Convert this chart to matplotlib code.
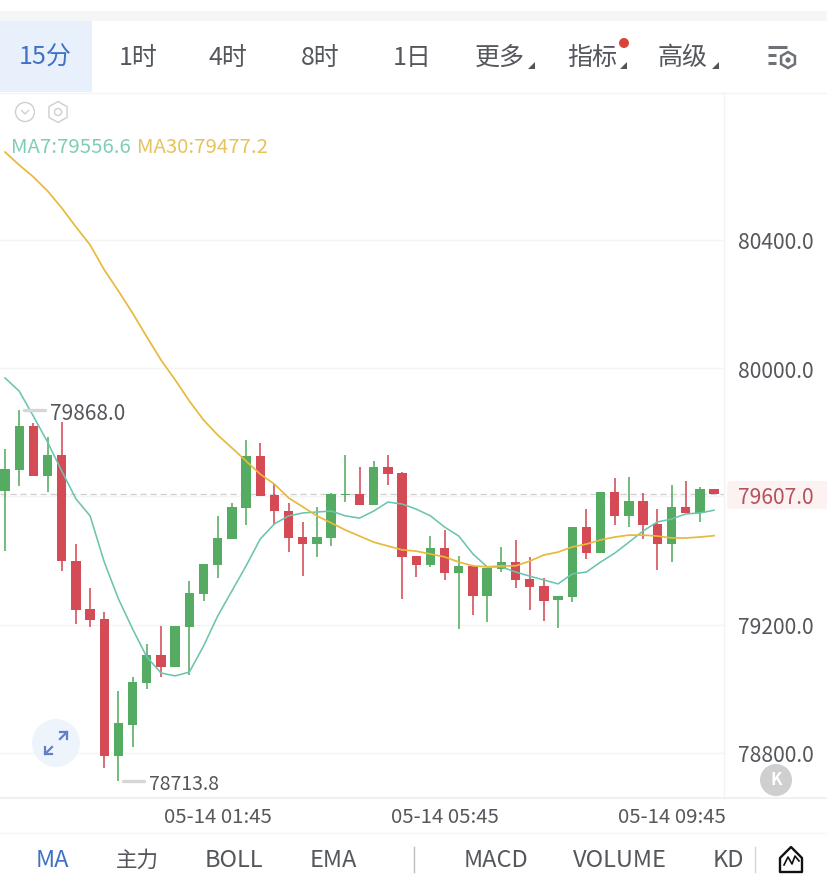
import matplotlib
matplotlib.use("Agg")
import matplotlib.pyplot as plt
from matplotlib.patches import Circle, Rectangle, RegularPolygon, FancyBboxPatch, Polygon

plt.rcParams['font.family'] = ['Noto Sans CJK SC', 'DejaVu Sans']

# ---- data ----
opens = [79616, 79682, 79819, 79663, 79729, 79398, 79249, 79217, 78790, 78887,
         79018, 79105, 79068, 79192, 79295, 79386, 79467, 79563, 79726, 79604,
         79554, 79473, 79451, 79470, 79604, 79607, 79573, 79691, 79673, 79414,
         79386, 79439, 79361, 79383, 79289, 79373, 79395, 79342, 79320, 79277,
         79286, 79504, 79423, 79613, 79539, 79585, 79514, 79451, 79567, 79548, 79623]
closes = [79685, 79819, 79663, 79729, 79398, 79245, 79214, 78790, 78893, 79021,
          79105, 79068, 79196, 79298, 79389, 79470, 79567, 79726, 79601, 79554,
          79470, 79451, 79473, 79607, 79607.5, 79573, 79691, 79669, 79411, 79386,
          79439, 79361, 79383, 79289, 79376, 79395, 79339, 79317, 79274, 79289,
          79504, 79423, 79613, 79539, 79585, 79510, 79451, 79567, 79548, 79623, 79607]
highs = [79747, 79868, 79829, 79785, 79832, 79451, 79314, 79239, 78993, 79037,
         79139, 79196, 79196, 79336, 79389, 79539, 79579, 79775, 79766, 79638,
         79579, 79520, 79567, 79610, 79729, 79691, 79710, 79729, 79676, 79414,
         79476, 79495, 79414, 79383, 79376, 79442, 79464, 79411, 79345, 79289,
         79504, 79560, 79613, 79657, 79660, 79610, 79560, 79635, 79648, 79629, 79623]
lows = [79429, 79632, 79663, 79613, 79367, 79202, 79192, 78753, 78713.8, 78818,
        78999, 79037, 79068, 79043, 79274, 79345, 79467, 79510, 79601, 79510,
        79426, 79351, 79411, 79445, 79582, 79573, 79573, 79635, 79280, 79348,
        79380, 79339, 79186, 79230, 79208, 79364, 79314, 79245, 79211, 79189,
        79270, 79404, 79423, 79510, 79504, 79467, 79370, 79395, 79548, 79520, 79607]
ma7 = [79969, 79928, 79850, 79769, 79679, 79592, 79539, 79395, 79280, 79186,
       79099, 79049, 79040, 79052, 79133, 79227, 79305, 79383, 79467, 79514,
       79539, 79548, 79551, 79554, 79539, 79532, 79554, 79582, 79576, 79560,
       79539, 79504, 79476, 79420, 79380, 79380, 79364, 79351, 79339, 79327,
       79358, 79364, 79395, 79423, 79457, 79492, 79520, 79529, 79545, 79548, 79556.6]
ma30 = [80673.5, 80633, 80596, 80552, 80499, 80440, 80384, 80306, 80240, 80171,
        80097, 80025, 79963, 79897, 79838, 79791, 79751, 79710, 79669, 79638,
        79595, 79567, 79539, 79517, 79495, 79476, 79457, 79445, 79433, 79429,
        79420, 79411, 79395, 79383, 79380, 79383, 79383, 79398, 79417, 79426,
        79442, 79451, 79464, 79473, 79479, 79479, 79476, 79470, 79470, 79473, 79477.2]
price_ticks = [78800, 79200, 80000, 80400]
time_ticks = [15, 31, 47]
time_labels = ['05-14 01:45', '05-14 05:45', '05-14 09:45']
last_price = 79607.0
high_idx, high_val = 1, 79868.0
low_idx, low_val = 8, 78713.8
top_tabs = ['1时', '4时', '8时', '1日', '更多', '指标', '高级']
bottom_cjk = ['主力']
bottom_latin = ['BOLL', 'EMA', 'MACD', 'VOLUME', 'KD']

GREEN, RED = '#55ab62', '#d44a55'
TXT = '#54575c'
BLUE = '#3f72c4'
LINE = '#f3f3f3'
W, H = 828, 895

fig = plt.figure(figsize=(W / 100, H / 100), dpi=100, facecolor='white')

# ---- layer under the chart ----
bg = fig.add_axes([0, 0, 1, 1], zorder=-1)
bg.set_xlim(0, W)
bg.set_ylim(H, 0)
bg.axis('off')
bg.add_patch(FancyBboxPatch((727, 482), 110, 28, boxstyle='round,pad=0,rounding_size=5',
                            color='#fcf2f1', lw=0))

# ---- chart ----
top_px, bot_px, right_px = 94, 798, 724
ax = fig.add_axes([0, 1 - bot_px / H, right_px / W, (bot_px - top_px) / H])
ax.patch.set_alpha(0)
ax.set_xlim(-0.3526, 50.7)
ax.set_ylim(78662.4, 80857.5)
for s in ax.spines.values():
    s.set_visible(False)
ax.set_yticks(price_ticks + [last_price])
ax.set_yticklabels([f'{p:.1f}' for p in price_ticks] + [f'{last_price:.1f}'], fontsize=15.2, color=TXT)
ax.yaxis.tick_right()
ax.tick_params(axis='y', length=0, pad=10)
ax.get_yticklabels()[-1].set_color('#b4525f')
for lb in ax.get_yticklabels():
    lb.set_verticalalignment('center_baseline')
ax.set_xticks(time_ticks)
ax.set_xticklabels(time_labels, fontsize=14.7, color=TXT)
ax.tick_params(axis='x', length=0, pad=6.5)
for p in price_ticks + [79600]:
    ax.axhline(p, color='#f4f4f4', lw=1, zorder=1)
ax.axhline(last_price, color='#cfcfcf', lw=0.9, ls=(0, (5, 3)), zorder=1.5)

for i, (o, c, h, l) in enumerate(zip(opens, closes, highs, lows)):
    col = GREEN if c >= o else RED
    ax.vlines(i, l, h, color=col, lw=1.15, zorder=2)
    ax.bar(i, abs(c - o), bottom=min(o, c), width=0.66, color=col, zorder=2.5, linewidth=0)

ax.plot(range(len(ma7)), ma7, color='#6cc4b0', lw=1.15, zorder=3)
ax.plot(range(len(ma30)), ma30, color='#e8b93c', lw=1.25, zorder=3.2)

ax.plot([high_idx + 0.35, high_idx + 1.8], [high_val, high_val], color='#d6d6d6', lw=2.4, solid_capstyle='round', zorder=3)
ax.text(high_idx + 2.16, high_val, f'{high_val:.1f}', fontsize=15, color=TXT, va='center_baseline', ha='left', zorder=4)
ax.plot([low_idx + 0.35, low_idx + 1.8], [low_val, low_val], color='#d6d6d6', lw=2.4, solid_capstyle='round', zorder=3)
ax.text(low_idx + 2.16, low_val, f'{low_val:.1f}', fontsize=14, color=TXT, va='center_baseline', ha='left', zorder=4)

# ---- interface furniture, in picture pixels ----
ui = fig.add_axes([0, 0, 1, 1], zorder=5)
ui.set_xlim(0, W)
ui.set_ylim(H, 0)
ui.axis('off')
ui.patch.set_alpha(0)

ui.add_patch(Rectangle((0, 12), W, 10, color='#f5f6f7', lw=0))
ui.add_patch(Rectangle((0, 22), 92, 71, color='#e8f1fb', lw=0))
ui.plot([0, W], [93.5, 93.5], color=LINE, lw=1)
ui.plot([724, 724], [94, 798], color=LINE, lw=1)
ui.plot([0, W], [798.5, 798.5], color='#eeeeee', lw=1.2)
ui.plot([0, W], [834, 834], color='#f5f5f5', lw=1)

ui.text(45, 58, '15分', fontsize=18, color=BLUE, ha='center', va='center')
for lab, x in zip(top_tabs, [138, 228, 320, 412, 500, 592, 683]):
    ui.text(x, 58, lab, fontsize=18, color=TXT, ha='center', va='center')
for x in [531, 623, 715]:
    ui.add_patch(Polygon([[x + 4, 63], [x + 4, 70], [x - 3, 70]], color='#555555', lw=0))
ui.add_patch(Circle((624, 44), 5, color='#d8443a', lw=0))

# settings icon
ui.plot([768, 787], [48, 48], color='#6d7278', lw=2.2, solid_capstyle='butt')
ui.plot([768, 776], [56, 56], color='#6d7278', lw=2.2, solid_capstyle='butt')
ui.plot([768, 776], [64, 64], color='#6d7278', lw=2.2, solid_capstyle='butt')
ui.add_patch(RegularPolygon((788, 61), 6, radius=8, fill=False, ec='#6d7278', lw=1.8))
ui.add_patch(Circle((788, 61), 2.6, color='#6d7278', lw=0))

# small icons
ui.add_patch(Circle((25, 113), 9.5, fill=False, ec='#cfcfcf', lw=1))
ui.plot([21.5, 25, 28.5], [111.5, 115, 111.5], color='#cfcfcf', lw=1)
ui.add_patch(RegularPolygon((58, 113), 6, radius=10.5, fill=False, ec='#cfcfcf', lw=1))
ui.add_patch(Circle((58, 113), 3.5, fill=False, ec='#cfcfcf', lw=1))

ui.text(11, 147, 'MA7:79556.6', fontsize=14.7, color='#7fcdb8', ha='left', va='center')
ui.text(137, 147, 'MA30:79477.2', fontsize=14.7, color='#e6c35c', ha='left', va='center')

# expand button
ui.add_patch(Circle((56, 744), 24, color='#eef4fc', lw=0))
arrow = '#5f7fc8'
ui.plot([60.5, 67, 67], [733, 733, 740], color=arrow, lw=1.6)
ui.plot([60, 67], [740, 733], color=arrow, lw=1.6)
ui.plot([45, 45, 52], [748, 755, 755], color=arrow, lw=1.6)
ui.plot([45, 52], [755, 748], color=arrow, lw=1.6)

# K button
ui.add_patch(Circle((776, 781), 16, color='#cfcfcf', lw=0))
ui.text(776, 780.5, 'K', fontsize=12, color='white', ha='center', va='center', fontweight='bold')

# bottom navigation
ui.text(52, 861, 'MA', fontsize=17, color=BLUE, ha='center', va='center', fontweight='medium')
for lab, x in zip(bottom_cjk, [137]):
    ui.text(x, 861, lab, fontsize=15.5, color=TXT, ha='center', va='center')
for lab, x in zip(bottom_latin, [234, 333, 496, 619.5, 728]):
    ui.text(x, 861, lab, fontsize=17, color=TXT, ha='center', va='center')
ui.plot([414, 414], [848, 873], color='#bdbdbd', lw=1)
ui.plot([755, 755], [848, 873], color='#d5d5d5', lw=1)
ui.add_patch(Polygon([[791, 848], [802, 859], [802, 873], [780, 873], [780, 859]],
                     closed=True, fill=False, ec='#111111', lw=1.7, joinstyle='round'))
ui.plot([784, 788, 792, 795, 799], [866, 858, 865, 857, 862], color='#111111', lw=1.2)

fig.savefig('out.png', dpi=100, facecolor='white')
